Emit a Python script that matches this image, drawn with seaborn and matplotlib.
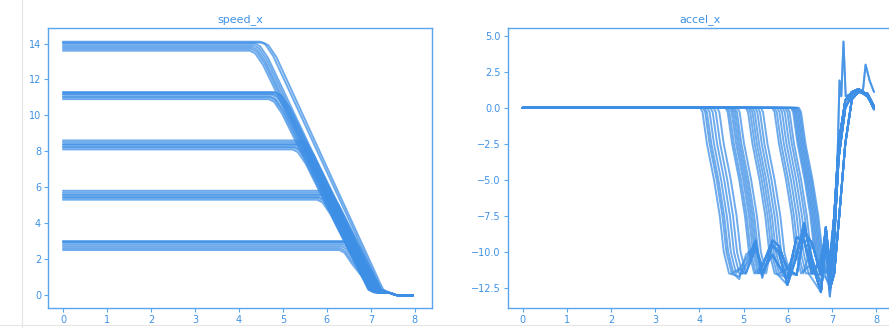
import numpy as np
import pandas as pd
import seaborn as sns
import matplotlib.pyplot as plt
from matplotlib.lines import Line2D

# ---- data ----
# speed_x: five bands of trajectories (start speed, time braking starts, time speed reaches ~0)
v0_g1 = [13.6, 13.7, 13.8, 13.9, 14.0, 14.1, 14.05]
brake_g1 = [4.25, 4.28, 4.3, 4.33, 4.36, 4.48, 4.55]
stop_g1 = [7.02, 7.05, 7.08, 7.12, 7.15, 7.24, 7.28]

v0_g2 = [10.9, 11.0, 11.05, 11.15, 11.2, 11.3, 11.25]
brake_g2 = [4.68, 4.7, 4.72, 4.75, 4.78, 4.8, 4.85]
stop_g2 = [6.95, 6.99, 7.02, 7.07, 7.11, 7.15, 7.19]

v0_g3 = [8.1, 8.2, 8.25, 8.35, 8.4, 8.5, 8.6]
brake_g3 = [5.22, 5.25, 5.28, 5.3, 5.33, 5.36, 5.4]
stop_g3 = [6.94, 6.99, 7.03, 7.07, 7.11, 7.16, 7.22]

v0_g4 = [5.3, 5.4, 5.45, 5.55, 5.6, 5.7, 5.8]
brake_g4 = [5.78, 5.8, 5.83, 5.86, 5.9, 5.93, 5.97]
stop_g4 = [6.95, 6.99, 7.03, 7.08, 7.13, 7.18, 7.23]

v0_g5 = [2.5, 2.6, 2.7, 2.8, 2.9, 2.95, 3.0]
brake_g5 = [6.28, 6.3, 6.33, 6.36, 6.4, 6.43, 6.46]
stop_g5 = [6.98, 7.02, 7.06, 7.1, 7.14, 7.18, 7.22]

# rounded knee at start of braking (time after brake start, speed loss)
knee_dt = [0.12, 0.3]
knee_dv = [0.15, 0.8]
# creeping tail after the stop
tail_t = [7.45, 7.55, 7.7, 7.95]
tail_v = [0.1, 0.0, -0.05, -0.03]

# accel_x: time the deceleration starts, per band
drop_g1 = [4.02, 4.08, 4.12, 4.18, 4.25, 4.32, 4.4]
drop_g2 = [4.59, 4.63, 4.68, 4.72, 4.76, 4.8, 4.86]
drop_g3 = [5.05, 5.1, 5.15, 5.2, 5.26, 5.32, 5.39]
drop_g4 = [5.65, 5.7, 5.76, 5.82, 5.88, 5.94, 5.99]
drop_g5 = [6.07, 6.1, 6.13, 6.16, 6.19, 6.22, 6.25]

# shape of the drop (time after start, accel)
drop_dt = [0.05, 0.15, 0.31, 0.44, 0.53, 0.65]
drop_a = [-0.3, -2.5, -5.0, -7.5, -10.0, -11.5]

# oscillating floor + recovery, a few variants
floor_t = [4.75, 4.9, 5.05, 5.27, 5.42, 5.65, 5.8, 5.99, 6.2, 6.37, 6.55, 6.75, 6.86,
           6.95, 7.05, 7.15, 7.3, 7.45, 7.6, 7.8, 7.95]
floor_a1 = [-11.4, -11.7, -10.8, -9.2, -11.8, -9.5, -10.0, -12.3, -10.3, -8.0, -10.8, -12.8, -9.5,
            -12.2, -9.0, -3.5, 0.0, 0.9, 1.2, 0.8, 0.0]
floor_a2 = [-11.0, -11.2, -11.5, -9.8, -11.0, -9.2, -9.6, -11.2, -11.6, -8.6, -9.4, -11.6, -8.3,
            -11.0, -7.5, -2.5, 0.5, 1.1, 1.3, 0.9, -0.1]
floor_a3 = [-11.8, -11.9, -10.2, -9.6, -11.4, -10.2, -11.0, -11.8, -9.0, -9.2, -11.5, -10.5, -8.8,
            -12.6, -11.5, -8.0, -2.5, 0.6, 1.1, 1.0, 0.1]
spike_t = [4.75, 4.9, 5.05, 5.27, 5.42, 5.65, 5.8, 5.99, 6.2, 6.37, 6.55, 6.75, 6.86,
           6.95, 7.05, 7.12, 7.17, 7.21, 7.26, 7.31, 7.45, 7.6, 7.7, 7.76, 7.85, 7.95]
spike_a = [-11.5, -11.6, -10.5, -9.3, -11.6, -9.6, -10.2, -12.0, -10.0, -8.3, -10.5, -12.2, -9.2,
           -13.1, -10.0, -4.0, 1.9, 0.8, 4.6, 0.8, 1.0, 1.1, 1.2, 3.0, 1.9, 1.1]

LINE_COLOR = '#3d8fe6'
AXIS_COLOR = '#5aa6ee'
TEXT_COLOR = '#3f92e4'

# ---- build long tables ----
speed_rows = []
uid = 0
for v0s, brks, stps in [(v0_g1, brake_g1, stop_g1), (v0_g2, brake_g2, stop_g2),
                        (v0_g3, brake_g3, stop_g3), (v0_g4, brake_g4, stop_g4),
                        (v0_g5, brake_g5, stop_g5)]:
    for v0, b, s in zip(v0s, brks, stps):
        ts = [0.0, b] + [b + d for d in knee_dt] + [s - 0.08, s, s + 0.12] + tail_t
        vs = [v0, v0] + [v0 - d for d in knee_dv] + [0.7, 0.3, 0.15] + tail_v
        for t, v in zip(ts, vs):
            speed_rows.append({'line': uid, 't': t, 'v': v})
        uid += 1
speed_df = pd.DataFrame(speed_rows)

floors = [(floor_t, floor_a1), (floor_t, floor_a2), (floor_t, floor_a3)]
accel_rows = []
uid = 0
for gi, drops in enumerate([drop_g1, drop_g2, drop_g3, drop_g4, drop_g5]):
    for i, d in enumerate(drops):
        if (gi, i) in [(0, 3), (2, 4)]:
            ft, fa = spike_t, spike_a
        else:
            ft, fa = floors[(i + gi) % 3]
        ts = [0.0, d] + [d + x for x in drop_dt]
        as_ = [0.0, 0.0] + drop_a
        for t, a in zip(ft, fa):
            if t > d + 0.75:
                ts.append(t)
                as_.append(a)
        for t, a in zip(ts, as_):
            accel_rows.append({'line': uid, 't': t, 'a': a})
        uid += 1
accel_df = pd.DataFrame(accel_rows)

# ---- plot ----
sns.set_style('white')
fig = plt.figure(figsize=(8.89, 3.28), dpi=100)
ax1 = fig.add_axes([0.054, 0.061, 0.432, 0.854])
ax2 = fig.add_axes([0.571, 0.061, 0.434, 0.854])

sns.lineplot(data=speed_df, x='t', y='v', units='line', estimator=None,
             color=LINE_COLOR, lw=1.4, alpha=0.75, sort=False, ax=ax1)
sns.lineplot(data=accel_df, x='t', y='a', units='line', estimator=None,
             color=LINE_COLOR, lw=1.4, alpha=0.75, sort=False, ax=ax2)

ax1.set_title('speed_x', fontsize=8, color=TEXT_COLOR, pad=4)
ax2.set_title('accel_x', fontsize=8, color=TEXT_COLOR, pad=4)
ax1.set_yticks([0, 2, 4, 6, 8, 10, 12, 14])
ax2.set_yticks([-12.5, -10.0, -7.5, -5.0, -2.5, 0.0, 2.5, 5.0])
ax2.set_yticklabels(['−12.5', '−10.0', '−7.5', '−5.0', '−2.5', '0.0', '2.5', '5.0'])
ax1.set_ylim(-0.73, 14.87)
ax2.set_ylim(-13.9, 5.55)

for ax in (ax1, ax2):
    ax.set_xlim(-0.34, 8.39)
    ax.set_xticks(range(9))
    ax.set_xlabel('')
    ax.set_ylabel('')
    ax.tick_params(colors=AXIS_COLOR, labelcolor=TEXT_COLOR, labelsize=7,
                   length=3, width=0.8, pad=2, left=True, bottom=True)
    for sp in ax.spines.values():
        sp.set_color(AXIS_COLOR)
        sp.set_linewidth(1.0)

# faint screenshot border lines
fig.add_artist(Line2D([22 / 889, 22 / 889], [0.0, 1.0], color='#e6e6e6', lw=0.8))
fig.add_artist(Line2D([0.0, 1.0], [3 / 328, 3 / 328], color='#e6e6e6', lw=0.8))

fig.savefig('out.png', dpi=100)
